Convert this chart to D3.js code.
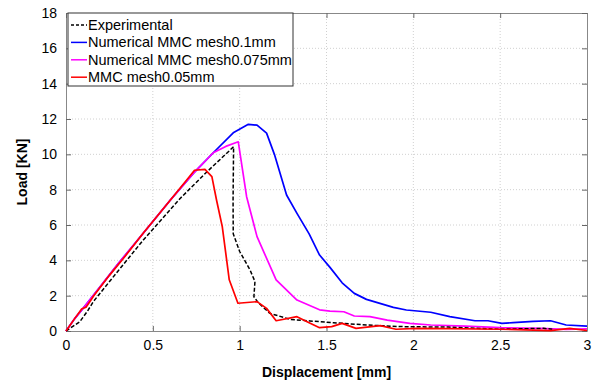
<!DOCTYPE html>
<html>
<head>
<meta charset="utf-8">
<script src="https://cdn.jsdelivr.net/npm/d3@7"></script>
<style>
  body { margin: 0; background: #fff; }
  svg { display: block; font-family: "Liberation Sans", Arial, sans-serif; }
</style>
</head>
<body>
<div id="chart"></div>
<script>
// load-displacement curves
const experimental = [[0,0],[0.08,0.53],[0.128,1.19],[0.157,1.66],[0.3,3.4],[0.445,5.15],[0.657,7.5],[0.8,8.9],[0.965,10.43],
  [0.962,7.4],[0.963,5.5],[1.0,4.5],[1.06,3.45],[1.088,2.8],[1.082,1.94],[1.107,1.6],[1.174,1.0],[1.29,0.66],[1.405,0.57],[1.54,0.47],
  [1.73,0.34],[1.92,0.25],[2.2,0.22],[2.5,0.1],[2.75,0.15],[2.8,0.1]];
const mesh01 = [[0,0],[0.05,0.7],[0.1,1.3],[0.2,2.55],[0.3,3.8],[0.4,5.0],[0.5,6.2],[0.6,7.4],[0.733,8.92],[0.848,10.09],
  [0.963,11.22],[1.05,11.7],[1.1,11.65],[1.155,11.2],[1.2,10.0],[1.27,7.7],[1.33,6.66],[1.4,5.5],[1.46,4.3],[1.52,3.6],[1.59,2.73],
  [1.66,2.13],[1.73,1.79],[1.885,1.34],[1.96,1.19],[2.1,1.06],[2.21,0.81],[2.355,0.58],[2.43,0.58],[2.51,0.43],[2.575,0.47],
  [2.69,0.55],[2.79,0.58],[2.88,0.34],[3.0,0.28]];
const mesh0075 = [[0,0],[0.05,0.7],[0.1,1.3],[0.2,2.55],[0.3,3.8],[0.4,5.0],[0.5,6.2],[0.6,7.4],[0.733,8.92],[0.848,10.09],
  [0.92,10.45],[0.992,10.71],[1.04,7.6],[1.1,5.34],[1.21,2.89],[1.33,1.75],[1.46,1.2],[1.52,1.13],[1.6,1.09],[1.66,0.85],[1.75,0.81],
  [1.85,0.62],[1.98,0.43],[2.1,0.34],[2.3,0.28],[2.5,0.19],[2.73,0.15],[2.88,0.09],[3.0,0.12]];
const mesh005 = [[0,0],[0.05,0.7],[0.09,1.25],[0.115,1.35],[0.14,1.7],[0.16,2.0],[0.25,3.15],[0.33,4.1],[0.45,5.6],[0.5,6.2],
  [0.6,7.4],[0.695,8.55],[0.74,9.1],[0.8,9.15],[0.84,8.74],[0.867,7.4],[0.9,5.9],[0.94,2.9],[0.99,1.57],[1.1,1.66],[1.155,1.28],
  [1.21,0.58],[1.33,0.81],[1.4,0.47],[1.46,0.19],[1.53,0.25],[1.59,0.43],[1.67,0.15],[1.81,0.3],[1.9,0.1],[2.02,0.15],[2.2,0.13],
  [2.5,0.1],[2.79,0.02],[2.9,0.15],[3.0,0.03]];

const seriesNames = ["Experimental", "Numerical MMC mesh0.1mm", "Numerical MMC mesh0.075mm", "MMC mesh0.05mm"];
const seriesData = [experimental, mesh01, mesh0075, mesh005];
const seriesColors = ["#000000", "#0000ff", "#ff00ff", "#ff0000"];
const xTicks = [0, 0.5, 1, 1.5, 2, 2.5, 3];
const yTicks = [0, 2, 4, 6, 8, 10, 12, 14, 16, 18];

const width = 598, height = 382;
const margin = {top: 13, right: 11, bottom: 51, left: 66};
const w = width - margin.left - margin.right;
const h = height - margin.top - margin.bottom;

const svg = d3.select("#chart").append("svg")
  .attr("width", width)
  .attr("height", height);

const g = svg.append("g")
  .attr("transform", "translate(" + margin.left + "," + margin.top + ")");

const x = d3.scaleLinear().domain([0, 3]).range([0, w]);
const y = d3.scaleLinear().domain([0, 18]).range([h, 0]);

// dotted grid
g.append("g").selectAll("line").data(xTicks.slice(1, -1)).enter().append("line")
  .attr("x1", d => x(d)).attr("x2", d => x(d)).attr("y1", 0).attr("y2", h)
  .attr("stroke", "#d0d0d0").attr("stroke-dasharray", "1,2");
g.append("g").selectAll("line").data(yTicks.slice(1, -1)).enter().append("line")
  .attr("y1", d => y(d)).attr("y2", d => y(d)).attr("x1", 0).attr("x2", w)
  .attr("stroke", "#d0d0d0").attr("stroke-dasharray", "1,2");

// axes with inward ticks on all sides
const fmt = d3.format("");
const axB = g.append("g").attr("transform", "translate(0," + h + ")")
  .call(d3.axisBottom(x).tickValues(xTicks).tickFormat(fmt).tickSizeInner(-5).tickSizeOuter(0).tickPadding(9));
const axL = g.append("g")
  .call(d3.axisLeft(y).tickValues(yTicks).tickSizeInner(-5).tickSizeOuter(0).tickPadding(9));
const axT = g.append("g")
  .call(d3.axisTop(x).tickValues(xTicks).tickFormat("").tickSizeInner(-5).tickSizeOuter(0));
const axR = g.append("g").attr("transform", "translate(" + w + ",0)")
  .call(d3.axisRight(y).tickValues(yTicks).tickFormat("").tickSizeInner(-5).tickSizeOuter(0));

[axB, axL, axT, axR].forEach(a => {
  a.select(".domain").attr("stroke", "#888");
  a.selectAll(".tick line").attr("stroke", "#666");
  a.selectAll("text").attr("font-size", 14).attr("fill", "#000")
    .attr("font-family", "Liberation Sans, Arial, sans-serif");
});

// curves: blue and magenta first, then the dashed experimental, red on top
const line = d3.line().x(d => x(d[0])).y(d => y(d[1]));
const order = [1, 2, 0, 3];
order.forEach(i => {
  g.append("path")
    .datum(seriesData[i])
    .attr("fill", "none")
    .attr("stroke", seriesColors[i])
    .attr("stroke-width", i === 0 ? 1.5 : 1.7)
    .attr("stroke-dasharray", i === 0 ? "4,2" : null)
    .attr("stroke-linejoin", "round")
    .attr("d", line);
});

// legend
const leg = g.append("g").attr("transform", "translate(2,0)");
leg.append("rect")
  .attr("x", 0).attr("y", 0).attr("width", 225).attr("height", 73)
  .attr("fill", "#fff").attr("stroke", "#333").attr("stroke-width", 1);
seriesNames.forEach((name, i) => {
  const yy = 12 + i * 17.4;
  leg.append("line")
    .attr("x1", 3).attr("x2", 19).attr("y1", yy).attr("y2", yy)
    .attr("stroke", seriesColors[i]).attr("stroke-width", 1.5)
    .attr("stroke-dasharray", i === 0 ? "3,2" : null);
  leg.append("text")
    .attr("x", 20).attr("y", yy + 5)
    .attr("font-size", 14.5)
    .text(name);
});

// axis titles
svg.append("text")
  .attr("x", margin.left + w / 2).attr("y", 377)
  .attr("text-anchor", "middle")
  .attr("font-size", 14).attr("font-weight", "bold")
  .text("Displacement [mm]");

svg.append("text")
  .attr("transform", "translate(27," + (margin.top + h / 2) + ") rotate(-90)")
  .attr("text-anchor", "middle")
  .attr("font-size", 14).attr("font-weight", "bold")
  .text("Load [KN]");
</script>
</body>
</html>
